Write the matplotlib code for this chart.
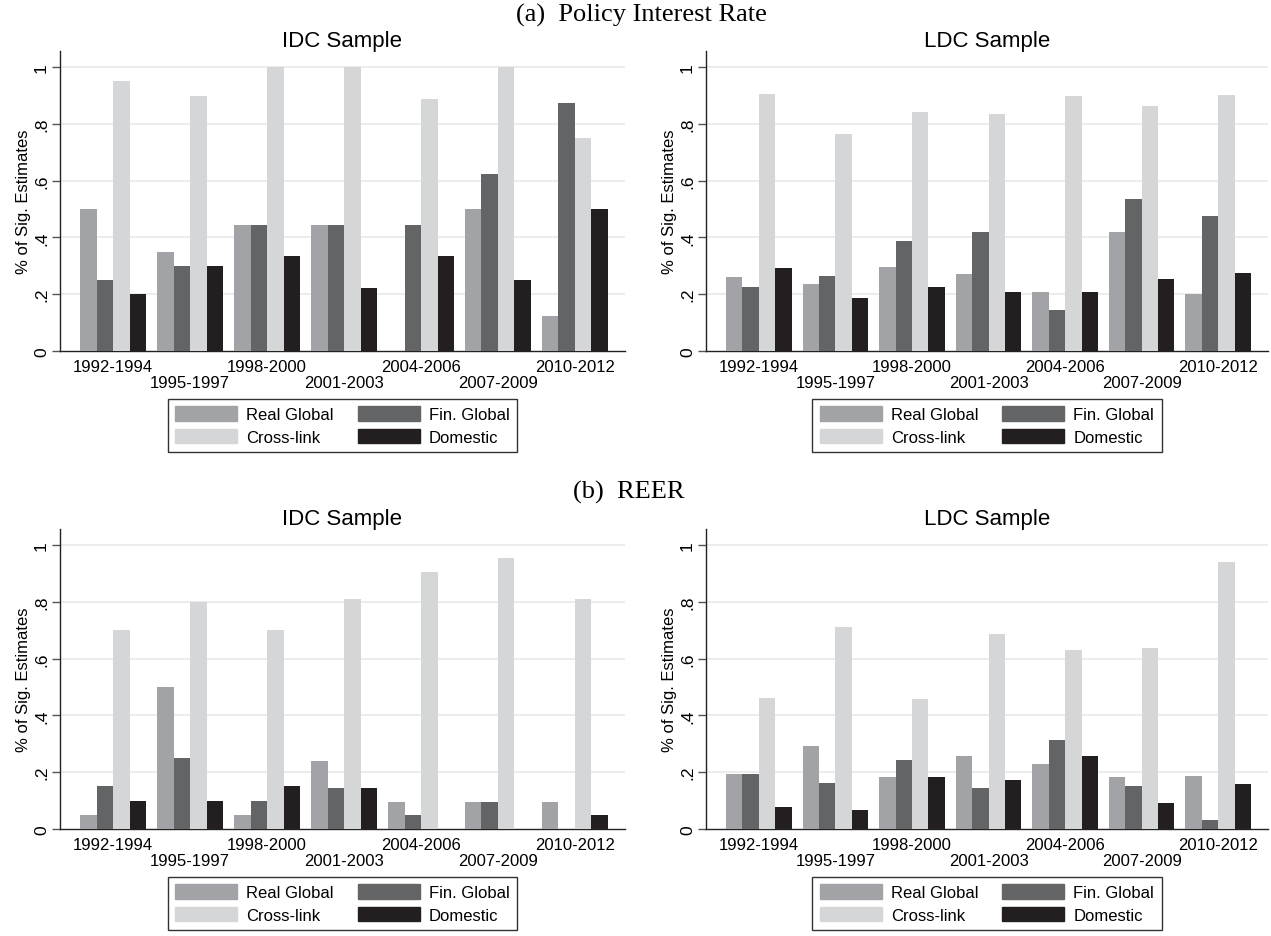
import numpy as np
import matplotlib
matplotlib.use('Agg')
from matplotlib import pyplot as plt
from matplotlib.patches import Patch

periods = ['1992-1994', '1995-1997', '1998-2000', '2001-2003',
           '2004-2006', '2007-2009', '2010-2012']
series = ['Real Global', 'Fin. Global', 'Cross-link', 'Domestic']
colors = ['#a2a3a7', '#636466', '#d5d6d8', '#231f20']

# (a) policy interest rate
idc_policy_real = [0.5, 0.35, 0.444, 0.444, 0.0, 0.5, 0.125]
idc_policy_fin = [0.25, 0.3, 0.444, 0.444, 0.444, 0.625, 0.875]
idc_policy_cross = [0.95, 0.9, 1.0, 1.0, 0.889, 1.0, 0.75]
idc_policy_dom = [0.2, 0.3, 0.333, 0.222, 0.333, 0.25, 0.5]

ldc_policy_real = [0.259, 0.236, 0.296, 0.271, 0.207, 0.419, 0.2]
ldc_policy_fin = [0.226, 0.264, 0.387, 0.418, 0.146, 0.536, 0.475]
ldc_policy_cross = [0.905, 0.765, 0.842, 0.835, 0.899, 0.862, 0.902]
ldc_policy_dom = [0.291, 0.185, 0.227, 0.207, 0.207, 0.255, 0.275]

# (b) REER
idc_reer_real = [0.05, 0.5, 0.05, 0.238, 0.095, 0.095, 0.095]
idc_reer_fin = [0.15, 0.25, 0.1, 0.143, 0.048, 0.095, 0.0]
idc_reer_cross = [0.7, 0.8, 0.7, 0.81, 0.905, 0.954, 0.81]
idc_reer_dom = [0.1, 0.1, 0.15, 0.143, 0.0, 0.0, 0.048]

ldc_reer_real = [0.194, 0.291, 0.182, 0.258, 0.229, 0.182, 0.188]
ldc_reer_fin = [0.194, 0.162, 0.243, 0.143, 0.313, 0.151, 0.033]
ldc_reer_cross = [0.462, 0.71, 0.457, 0.687, 0.629, 0.637, 0.939]
ldc_reer_dom = [0.077, 0.066, 0.182, 0.173, 0.258, 0.092, 0.157]

SANS = 'Liberation Sans'
SERIF = 'Liberation Serif'
W, H = 1271, 937


def draw_panel(ax, values, title):
    x = np.arange(len(periods))
    bw = 0.857 / 4
    for k, vals in enumerate(values):
        ax.bar(x - 1.5 * bw + k * bw, vals, width=bw, color=colors[k],
               linewidth=0, zorder=3)
    ax.set_xlim(-0.69, 6.65)
    ax.set_ylim(0, 1.057)
    yt = [0, 0.2, 0.4, 0.6, 0.8, 1.0]
    ax.set_yticks(yt, ['0', '.2', '.4', '.6', '.8', '1'],
                  fontsize=12.5, fontfamily=SANS, rotation=90, va='center')
    for v in yt[1:]:
        ax.axhline(v, color='#eaeaea', linewidth=1.3, zorder=1)
    ax.tick_params(axis='y', length=6, width=1, color='#555555', pad=2)
    # staggered period labels
    ax.set_xticks(x[::2], [periods[i] for i in x[::2]],
                  fontsize=12, fontfamily=SANS)
    ax.set_xticks(x[1::2], [periods[i] for i in x[1::2]], minor=True,
                  fontsize=12, fontfamily=SANS)
    ax.tick_params(axis='x', which='major', length=0, pad=6)
    ax.tick_params(axis='x', which='minor', length=0, pad=17.5)
    for s in ['top', 'right']:
        ax.spines[s].set_visible(False)
    for s in ['left', 'bottom']:
        ax.spines[s].set_color('#222222')
        ax.spines[s].set_linewidth(1.0)
    ax.set_ylabel('% of Sig. Estimates', fontsize=12, fontfamily=SANS)
    ax.yaxis.set_label_coords(-0.052, 0.5)
    ax.set_title(title, fontsize=16, fontfamily=SANS, pad=0.5)

    handles = [Patch(color=colors[i], label=series[i]) for i in [0, 2, 1, 3]]
    leg = ax.legend(handles=handles, ncol=2, loc='upper center',
                    bbox_to_anchor=(0.5, -0.132),
                    prop={'family': SANS, 'size': 12},
                    handlelength=3.7, handleheight=0.95, handletextpad=0.55,
                    columnspacing=1.45, labelspacing=0.38, borderpad=0.45,
                    fancybox=False, framealpha=1, edgecolor='#333333')
    leg.get_frame().set_linewidth(1.0)


fig = plt.figure(figsize=(W / 100, H / 100), dpi=100)
fig.patch.set_facecolor('white')

left_idc, left_ldc = 60 / W, 706 / W
width_idc, width_ldc = 565 / W, 562 / W
ax_h = 300 / H
bottom_a = 1 - 352 / H
bottom_b = 1 - 830 / H

ax1 = fig.add_axes([left_idc, bottom_a, width_idc, ax_h])
ax2 = fig.add_axes([left_ldc, bottom_a, width_ldc, ax_h])
ax3 = fig.add_axes([left_idc, bottom_b, width_idc, ax_h])
ax4 = fig.add_axes([left_ldc, bottom_b, width_ldc, ax_h])

draw_panel(ax1, [idc_policy_real, idc_policy_fin, idc_policy_cross, idc_policy_dom], 'IDC Sample')
draw_panel(ax2, [ldc_policy_real, ldc_policy_fin, ldc_policy_cross, ldc_policy_dom], 'LDC Sample')
draw_panel(ax3, [idc_reer_real, idc_reer_fin, idc_reer_cross, idc_reer_dom], 'IDC Sample')
draw_panel(ax4, [ldc_reer_real, ldc_reer_fin, ldc_reer_cross, ldc_reer_dom], 'LDC Sample')

fig.text(641 / W, 1 - 15 / H, '(a)  Policy Interest Rate', fontsize=19,
         fontfamily=SERIF, ha='center', va='center')
fig.text(629 / W, 1 - 492 / H, '(b)  REER', fontsize=19,
         fontfamily=SERIF, ha='center', va='center')

fig.savefig('out.png', dpi=100)
